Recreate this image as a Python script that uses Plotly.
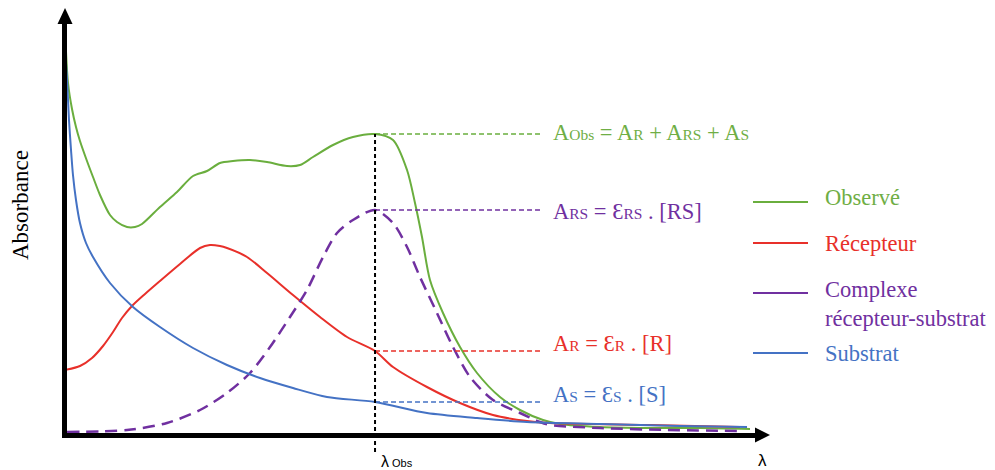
import plotly.graph_objects as go

# ---------------- data (arbitrary units) ----------------
lam_obs_val = 44.29  # λObs

obs_lam = [0.14, 0.43, 1.0, 1.57, 2.14, 3.14, 4.0, 5.0, 6.43, 7.43, 8.86, 10.0, 11.0, 13.57, 16.0,
           18.29, 20.29, 22.14, 24.0, 26.43, 28.86, 31.71, 33.57, 35.43, 38.29, 41.14, 44.29,
           46.86, 48.86, 50.0, 51.0, 52.14, 54.0, 56.43, 58.86, 62.14, 65.0, 68.29, 70.71,
           76.43, 83.57, 90.71, 97.86]
obs_abs = [0.96, 0.88, 0.815, 0.77, 0.735, 0.685, 0.645, 0.6, 0.55, 0.5325, 0.52, 0.52, 0.5275, 0.57, 0.6075,
           0.6475, 0.66, 0.68, 0.685, 0.6875, 0.6825, 0.6725, 0.675, 0.695, 0.725, 0.745, 0.7525,
           0.7375, 0.6625, 0.58, 0.495, 0.3875, 0.305, 0.22, 0.155, 0.095, 0.0625, 0.0375, 0.0275,
           0.02, 0.0175, 0.0175, 0.015]

rec_lam = [0.0, 2.14, 3.86, 5.43, 6.86, 8.14, 9.57, 11.43, 13.57, 16.43, 19.29, 20.71, 22.14, 23.14,
           26.0, 28.86, 32.57, 36.43, 40.29, 44.29, 46.86, 51.71, 56.43, 61.14, 66.0, 69.29, 83.57, 96.43]
rec_abs = [0.1625, 0.1725, 0.1925, 0.2225, 0.2575, 0.2925, 0.3225, 0.3525, 0.385, 0.4275, 0.4675,
           0.475, 0.4725, 0.4675, 0.445, 0.405, 0.35, 0.295, 0.245, 0.21, 0.17, 0.12, 0.08, 0.05,
           0.035, 0.03, 0.025, 0.02]

cpx_lam = [0.29, 8.86, 14.57, 19.29, 23.14, 26.43, 29.29, 32.14, 34.57, 36.86, 38.86, 41.14, 44.29,
           46.86, 48.86, 50.71, 53.14, 55.43, 57.86, 61.14, 65.0, 67.86, 69.29, 76.43, 86.0, 96.86]
cpx_abs = [0.0075, 0.0125, 0.03, 0.0625, 0.105, 0.155, 0.22, 0.295, 0.3625, 0.445, 0.505, 0.5375,
           0.5625, 0.53, 0.47, 0.395, 0.305, 0.22, 0.145, 0.0875, 0.055, 0.0325, 0.025, 0.0175,
           0.0125, 0.01]

sub_lam = [0.0, 0.29, 0.57, 0.86, 1.14, 1.57, 2.14, 3.0, 4.0, 6.43, 9.71, 13.57, 18.29, 23.14,
           27.86, 32.57, 37.43, 44.29, 51.71, 58.86, 66.0, 76.43, 87.86, 97.43]
sub_abs = [0.97, 0.8875, 0.7875, 0.7125, 0.65, 0.5875, 0.53, 0.48, 0.445, 0.38, 0.32, 0.27, 0.2175,
           0.175, 0.1425, 0.1175, 0.095, 0.0825, 0.055, 0.0425, 0.0325, 0.0275, 0.0225, 0.02]

series_names = ["Observé", "Récepteur", "Complexe<br>récepteur-substrat", "Substrat"]

# ---------------- styling ----------------
GREEN = "#6aae3e"
GREEN_TXT = "#6fae45"
RED = "#e8302a"
PURPLE = "#7030a0"
BLUE = "#4472c4"
SERIF = "Liberation Serif"
SANS = "Liberation Sans"

W, H = 995, 470
OFF = 8  # page body margin compensation
# plot area in reference pixels: x 67..757, y 20..433
REF_L, REF_R, REF_T, REF_B = 67, 757, 20, 433
L = REF_L - OFF
T = REF_T - OFF
R_ = W - (REF_R - OFF)
B = H - (REF_B - OFF)
PW, PH = REF_R - REF_L, REF_B - REF_T

XR = [(REF_L - 65) / 7.0, (REF_R - 65) / 7.0]
YR = [(435 - REF_B) / 400.0, (435 - REF_T) / 400.0]


def px(x):
    return (x - REF_L) / PW


def py(y):
    return (REF_B - y) / PH


def ay(a):
    return (a - YR[0]) / (YR[1] - YR[0])


fig = go.Figure()

fig.add_trace(go.Scatter(x=obs_lam, y=obs_abs, mode="lines", line=dict(color=GREEN, width=2, shape="spline", smoothing=0.8),
                         name=series_names[0], hoverinfo="skip"))
fig.add_trace(go.Scatter(x=rec_lam, y=rec_abs, mode="lines", line=dict(color=RED, width=2, shape="spline", smoothing=0.8),
                         name=series_names[1], hoverinfo="skip"))
fig.add_trace(go.Scatter(x=cpx_lam, y=cpx_abs, mode="lines",
                         line=dict(color=PURPLE, width=2.5, dash="12px,7px", shape="spline", smoothing=0.8),
                         name=series_names[2], hoverinfo="skip"))
fig.add_trace(go.Scatter(x=sub_lam, y=sub_abs, mode="lines", line=dict(color=BLUE, width=2, shape="spline", smoothing=0.8),
                         name=series_names[3], hoverinfo="skip"))

shapes = []
# values at λObs
v_obs = obs_abs[obs_lam.index(lam_obs_val)]
v_cpx = cpx_abs[cpx_lam.index(lam_obs_val)]
v_rec = rec_abs[rec_lam.index(lam_obs_val)]
v_sub = sub_abs[sub_lam.index(lam_obs_val)]

x_end = (540 - 65) / 7.0
for v, c in [(v_obs, GREEN), (v_cpx, PURPLE), (v_rec, RED), (v_sub, BLUE)]:
    shapes.append(dict(type="line", xref="x", yref="y", x0=lam_obs_val, x1=x_end, y0=v, y1=v,
                       line=dict(color=c, width=1.5, dash="5px,3px")))

# vertical λObs line
shapes.append(dict(type="line", xref="x", yref="paper", x0=lam_obs_val, x1=lam_obs_val,
                   y0=py(452), y1=ay(v_obs), line=dict(color="black", width=2, dash="4px,3px")))

# arrow heads
shapes.append(dict(type="path", xref="paper", yref="paper",
                   path=f"M {px(65)} {py(8)} L {px(57.5)} {py(24)} L {px(72.5)} {py(24)} Z",
                   fillcolor="black", line=dict(width=0)))
shapes.append(dict(type="path", xref="paper", yref="paper",
                   path=f"M {px(770)} {py(435)} L {px(755)} {py(427.5)} L {px(755)} {py(442.5)} Z",
                   fillcolor="black", line=dict(width=0)))

# legend samples
leg_rows = [(202, GREEN), (243, RED), (293, PURPLE), (353, BLUE)]
for yy, c in leg_rows:
    shapes.append(dict(type="line", xref="paper", yref="paper", x0=px(753), x1=px(808), y0=py(yy), y1=py(yy),
                       line=dict(color=c, width=2)))

annotations = []
S = "<span style='font-size:15.5px'>%s</span>"
labels = [
    ("A" + S % "Obs" + " = A" + S % "R" + " + A" + S % "RS" + " + A" + S % "S", GREEN_TXT, 133),
    ("A" + S % "RS" + " = Ɛ" + S % "RS" + " . [RS]", PURPLE, 211),
    ("A" + S % "R" + " = Ɛ" + S % "R" + " . [R]", RED, 343),
    ("A" + S % "S" + " = Ɛ" + S % "S" + " . [S]", BLUE, 394),
]
for txt, c, yy in labels:
    annotations.append(dict(text=txt, xref="paper", yref="paper", x=px(551), y=py(yy), xanchor="left",
                            yanchor="middle", showarrow=False, font=dict(family=SERIF, size=22.5, color=c)))

leg_text = [(series_names[0], GREEN_TXT, 198), (series_names[1], RED, 243), (series_names[2], PURPLE, 304),
            (series_names[3], BLUE, 353)]
for txt, c, yy in leg_text:
    annotations.append(dict(text=txt, xref="paper", yref="paper", x=px(823), y=py(yy), xanchor="left",
                            yanchor="middle", align="left", showarrow=False,
                            font=dict(family=SERIF, size=22.5, color=c)))

annotations.append(dict(text="Absorbance", xref="paper", yref="paper", x=px(20), y=py(205), textangle=-90,
                        xanchor="center", yanchor="middle", showarrow=False,
                        font=dict(family=SERIF, size=23, color="black")))
annotations.append(dict(text="λ<span style='font-size:11px'> Obs</span>", xref="paper", yref="paper",
                        x=px(379), y=py(461), xanchor="left", yanchor="middle", showarrow=False,
                        font=dict(family=SANS, size=16, color="black")))
annotations.append(dict(text="λ", xref="paper", yref="paper", x=px(762), y=py(460), xanchor="center",
                        yanchor="middle", showarrow=False, font=dict(family=SANS, size=17, color="black")))

fig.update_layout(
    width=W, height=H, margin=dict(l=L, r=R_, t=T, b=B),
    paper_bgcolor="white", plot_bgcolor="white", showlegend=False,
    shapes=shapes, annotations=annotations,
    xaxis=dict(range=XR, showline=True, linewidth=5, linecolor="black", showgrid=False, zeroline=False,
               showticklabels=False, ticks=""),
    yaxis=dict(range=YR, showline=True, linewidth=5, linecolor="black", showgrid=False, zeroline=False,
               showticklabels=False, ticks=""),
)

fig.write_html("out.html")
